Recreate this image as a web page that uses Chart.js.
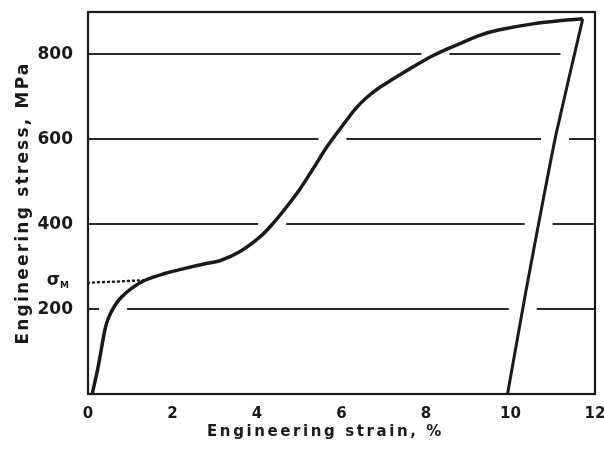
<!DOCTYPE html>
<html>
<head>
<meta charset="utf-8">
<script src="https://cdn.jsdelivr.net/npm/chart.js@4"></script>
<style>
  html, body { margin: 0; padding: 0; background: #fff; }
</style>
</head>
<body>
<canvas id="stressStrain" width="604" height="462"></canvas>
<script>
// tick values
const strainTicks = [0, 2, 4, 6, 8, 10, 12];
const stressTicks = [200, 400, 600, 800];

// loading curve (strain %, stress MPa)
const loadStrain = [0.10, 0.24, 0.40, 0.48, 0.64, 0.80, 1.03, 1.35, 1.82, 2.29, 2.77, 3.12, 3.59, 4.07, 4.38, 4.70, 5.01, 5.33, 5.64, 5.88, 6.12, 6.35, 6.59, 6.90, 7.22, 7.53, 7.85, 8.16, 8.48, 8.79, 9.27, 9.74, 10.53, 11.32, 11.71];
const loadStress = [0, 64, 151, 178, 209, 229, 249, 268, 284, 296, 307, 314, 335, 370, 402, 441, 482, 531, 580, 613, 645, 674, 698, 722, 742, 761, 780, 797, 812, 825, 845, 858, 872, 881, 884];

// unloading line
const unloadStrain = [11.71, 11.08, 10.77, 10.37, 9.93];
const unloadStress = [884, 613, 456, 245, 0];

// dotted sigma_M level
const sigmaStrain = [0, 1.35];
const sigmaStress = [262, 268];

const ink = '#1a1a1a';
const fontFamily = '"DejaVu Sans", "Liberation Sans", sans-serif';

const toPoints = (xs, ys) => xs.map((x, i) => ({ x: x, y: ys[i] }));

// where a polyline crosses a horizontal stress level
function crossings(xs, ys, level) {
  const out = [];
  for (let i = 0; i < xs.length - 1; i++) {
    const a = ys[i], b = ys[i + 1];
    if (a !== b && (a - level) * (b - level) <= 0) {
      out.push(xs[i] + (level - a) / (b - a) * (xs[i + 1] - xs[i]));
    }
  }
  return out;
}

// fixed axis boxes + spaced out lettering for the titles, like the drafted original
function spacedTitle(spacing, shiftX) {
  return s => {
    if (s.isHorizontal()) s.height = 68; else s.width = 88;
    s.paddingLeft = 0; s.paddingRight = 0; s.paddingTop = 0; s.paddingBottom = 0;
    if (s._spaced) return;
    s._spaced = true;
    const drawTitle = s.drawTitle;
    s.drawTitle = function () {
      this.ctx.save();
      this.ctx.letterSpacing = spacing;
      this.ctx.translate(shiftX, 0);
      drawTitle.call(this);
      this.ctx.restore();
    };
  };
}

// hand drawn look: grid lines broken where the curve passes, plus frame and sigma label
const sketchPlugin = {
  id: 'sketch',
  beforeDatasetsDraw(chart) {
    const { ctx, chartArea: area, scales: { x, y } } = chart;
    const gap = 14;
    ctx.save();
    ctx.strokeStyle = '#2a2a2a';
    ctx.lineWidth = 2;
    stressTicks.forEach(level => {
      const cuts = crossings(loadStrain, loadStress, level)
        .concat(crossings(unloadStrain, unloadStress, level))
        .map(v => x.getPixelForValue(v))
        .sort((a, b) => a - b);
      const py = Math.round(y.getPixelForValue(level));
      let start = area.left;
      const pieces = [];
      cuts.forEach(c => {
        pieces.push([start, c - gap]);
        start = c + gap;
      });
      pieces.push([start, area.right]);
      pieces.forEach(([a, b]) => {
        if (b - a < 9) return;
        ctx.beginPath();
        ctx.moveTo(a, py);
        ctx.lineTo(b, py);
        ctx.stroke();
      });
    });
    ctx.restore();
  },
  afterDatasetsDraw(chart) {
    const { ctx, chartArea: area, scales: { y } } = chart;
    ctx.save();
    ctx.strokeStyle = ink;
    ctx.lineWidth = 2.2;
    ctx.strokeRect(area.left, area.top, area.right - area.left, area.bottom - area.top);

    // sigma_M label
    const sy = y.getPixelForValue(sigmaStress[0]);
    ctx.fillStyle = ink;
    ctx.textBaseline = 'middle';
    ctx.textAlign = 'right';
    ctx.font = 'bold 17px ' + fontFamily;
    ctx.fillText('σ', area.left - 28, sy - 2);
    ctx.textAlign = 'left';
    ctx.font = 'bold 9px ' + fontFamily;
    ctx.fillText('M', area.left - 28, sy + 3);
    ctx.restore();
  }
};

const ctx = document.getElementById('stressStrain').getContext('2d');
new Chart(ctx, {
  type: 'line',
  data: {
    datasets: [{
      label: 'loading',
      data: toPoints(loadStrain, loadStress),
      borderColor: ink,
      borderWidth: 3.5,
      pointRadius: 0,
      tension: 0.35,
      fill: false
    }, {
      label: 'unloading',
      data: toPoints(unloadStrain, unloadStress),
      borderColor: ink,
      borderWidth: 3,
      pointRadius: 0,
      tension: 0.2,
      fill: false
    }, {
      label: 'sigma M',
      data: toPoints(sigmaStrain, sigmaStress),
      borderColor: ink,
      borderWidth: 2.5,
      borderDash: [1, 4],
      borderCapStyle: 'round',
      pointRadius: 0,
      fill: false
    }]
  },
  options: {
    responsive: false,
    animation: false,
    layout: { padding: { top: 12, right: 9, left: 0, bottom: 0 } },
    plugins: {
      legend: { display: false },
      tooltip: { enabled: false }
    },
    scales: {
      x: {
        type: 'linear',
        min: 0,
        max: 12,
        afterBuildTicks: s => { s.ticks = strainTicks.map(v => ({ value: v })); },
        afterFit: spacedTitle('2.6px', -16),
        grid: { display: false, drawTicks: false },
        border: { display: false },
        ticks: {
          padding: 11,
          color: ink,
          font: { family: fontFamily, size: 15, weight: 'bold' }
        },
        title: {
          display: true,
          text: 'Engineering strain, %',
          color: ink,
          padding: { top: 0, bottom: 21 },
          font: { family: fontFamily, size: 15, weight: 'bold' }
        }
      },
      y: {
        min: 0,
        max: 900,
        afterBuildTicks: s => { s.ticks = stressTicks.map(v => ({ value: v })); },
        afterFit: spacedTitle('2.2px', 0),
        grid: { display: false, drawTicks: false },
        border: { display: false },
        ticks: {
          padding: 15,
          color: ink,
          font: { family: fontFamily, size: 17, weight: 'bold' }
        },
        title: {
          display: true,
          text: 'Engineering stress, MPa',
          color: ink,
          padding: { top: 13, bottom: 0 },
          font: { family: fontFamily, size: 17, weight: 'bold' }
        }
      }
    }
  },
  plugins: [sketchPlugin]
});
</script>
</body>
</html>
